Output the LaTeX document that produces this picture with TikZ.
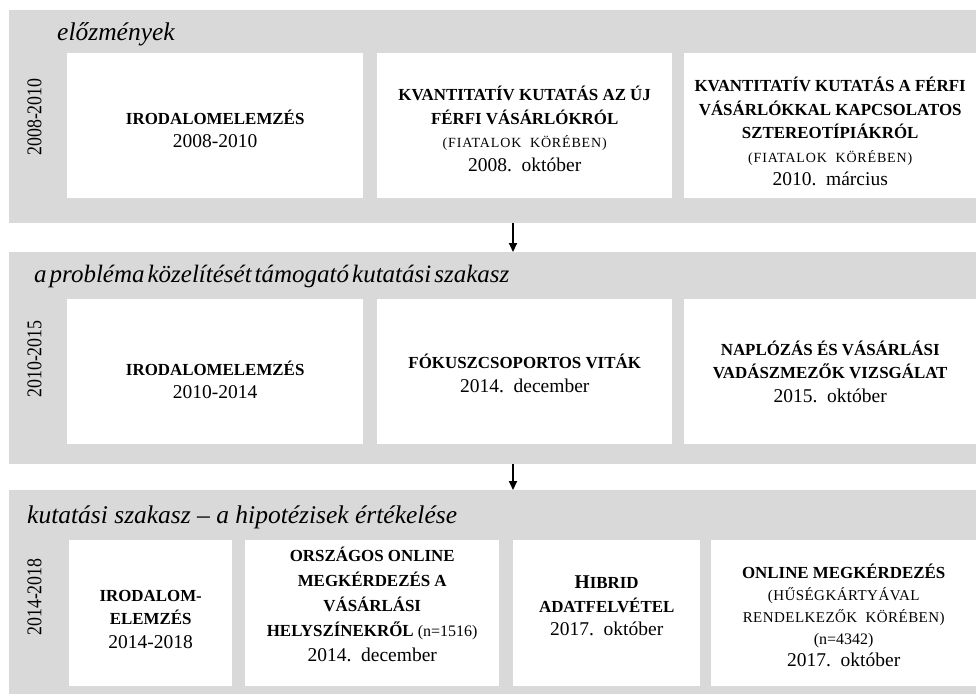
\documentclass[tikz,border=0pt]{standalone}
\usepackage{fontspec}
\setmainfont{Liberation Serif}
\usepackage{graphicx}
\usetikzlibrary{arrows.meta}
\definecolor{bandgray}{HTML}{D9D9D9}
\newcommand{\ttlf}{\fontsize{16.9}{\baselineskip}\bfseries\selectfont}
\newcommand{\bigbf}{\fontsize{19.5}{\baselineskip}\bfseries\selectfont}
\newcommand{\dtf}{\fontsize{19.5}{\baselineskip}\mdseries\selectfont}
\newcommand{\nf}{\fontsize{16}{\baselineskip}\mdseries\selectfont}
\newcommand{\scpf}{\fontsize{14}{\baselineskip}\mdseries\selectfont\addfontfeature{LetterSpace=6}}
\newcommand{\scpg}{\fontsize{15}{\baselineskip}\mdseries\selectfont\addfontfeature{LetterSpace=3}}
\newcommand{\lblf}{\fontsize{25.5}{30}\itshape\selectfont}
\begin{document}
\begin{tikzpicture}[x=1pt,y=-1pt,
  band/.style={fill=bandgray,draw=none,inner sep=0pt,anchor=north west,minimum width=967pt},
  box/.style={fill=white,draw=none,inner sep=0pt,anchor=north west},
  txt/.style={inner sep=0pt,align=center,font=\fontsize{19.5}{23.5}\selectfont},
  lbl/.style={inner sep=0pt,anchor=base west,font=\lblf},
  yr/.style={inner sep=0pt,rotate=90,font=\fontsize{21}{24}\selectfont},
  conn/.style={line width=1.8pt,-{Triangle[length=9pt,width=8pt]}}]
\useasboundingbox (0,0) rectangle (976,697);
% bands
\node[band,minimum height=213pt] (band1) at (9,10) {};
\node[band,minimum height=212pt] (band2) at (9,252) {};
\node[band,minimum height=204pt] (band3) at (9,490) {};
% band labels
\node[lbl] (l1) at (57,40.5) {előzmények};
\node[lbl,font=\fontsize{25}{30}\itshape\selectfont] (l2) at (34,282.5) {\spaceskip=0.12em\relax a probléma közelítését támogató kutatási szakasz};
\node[lbl] (l3) at (27,523) {kutatási szakasz – a hipotézisek értékelése};
% year labels
\node[yr] (y1) at (34.5,117) {\scalebox{0.85}[1]{2008-2010}};
\node[yr] (y2) at (34.5,359) {\scalebox{0.85}[1]{2010-2015}};
\node[yr] (y3) at (34.5,597) {\scalebox{0.85}[1]{2014-2018}};
% row 1 boxes
\node[box,minimum width=296pt,minimum height=145pt] (b11) at (67,53) {};
\node[box,minimum width=295pt,minimum height=145pt] (b12) at (377,53) {};
\node[box,minimum width=292pt,minimum height=145pt] (b13) at (684,53) {};
% row 2 boxes
\node[box,minimum width=296pt,minimum height=145pt] (b21) at (67,299) {};
\node[box,minimum width=295pt,minimum height=145pt] (b22) at (377,299) {};
\node[box,minimum width=292pt,minimum height=145pt] (b23) at (684,299) {};
% row 3 boxes
\node[box,minimum width=163pt,minimum height=146pt] (b31) at (69,540) {};
\node[box,minimum width=254pt,minimum height=146pt] (b32) at (245,540) {};
\node[box,minimum width=187pt,minimum height=146pt] (b33) at (513,540) {};
\node[box,minimum width=265pt,minimum height=146pt] (b34) at (711,540) {};
% texts row 1
\node[txt,yshift=-3pt] (t11) at (b11.center)
  {\ttlf IRODALOMELEMZÉS\\ \dtf 2008-2010};
\node[txt,yshift=-3pt] (t12) at (b12.center)
  {\ttlf KVANTITATÍV KUTATÁS AZ ÚJ\\ \ttlf FÉRFI VÁSÁRLÓKRÓL\\ \scpf (FIATALOK\ \ KÖRÉBEN)\\ \dtf 2008.\ \ október};
\node[txt,yshift=-6pt] (t13) at (b13.center)
  {\ttlf KVANTITATÍV KUTATÁS A FÉRFI\\ \ttlf VÁSÁRLÓKKAL KAPCSOLATOS\\ \ttlf SZTEREOTÍPIÁKRÓL\\ \scpf (FIATALOK\ \ KÖRÉBEN)\\ \dtf 2010.\ \ március};
% texts row 2
\node[txt,yshift=-8pt] (t21) at (b21.center)
  {\ttlf IRODALOMELEMZÉS\\ \dtf 2010-2014};
\node[txt,yshift=-1.5pt] (t22) at (b22.center)
  {\ttlf FÓKUSZCSOPORTOS VITÁK\\ \dtf 2014.\ \ december};
\node[txt] (t23) at (b23.center)
  {\ttlf NAPLÓZÁS ÉS VÁSÁRLÁSI\\ \ttlf VADÁSZMEZŐK VIZSGÁLAT\\ \dtf 2015.\ \ október};
% texts row 3
\node[txt,yshift=-6pt] (t31) at (b31.center)
  {\ttlf IRODALOM-\\ \ttlf ELEMZÉS\\ \dtf 2014-2018};
\node[txt,yshift=9pt,font=\fontsize{19.5}{25}\selectfont] (t32) at (b32.center)
  {\ttlf ORSZÁGOS ONLINE\\ \ttlf MEGKÉRDEZÉS A\\ \ttlf VÁSÁRLÁSI\\ \ttlf HELYSZÍNEKRŐL {\nf (n=1516)}\\ \dtf 2014.\ \ december};
\node[txt,yshift=7pt] (t33) at (b33.center)
  {{\bigbf H}\ttlf IBRID\\ \ttlf ADATFELVÉTEL\\ \dtf 2017.\ \ október};
\node[txt,yshift=-2pt,font=\fontsize{19.5}{22}\selectfont] (t34) at (b34.center)
  {\ttlf ONLINE MEGKÉRDEZÉS\\ \scpg (HŰSÉGKÁRTYÁVAL\\ \scpg RENDELKEZŐK\ \ KÖRÉBEN)\\ \nf (n=4342)\\ \dtf 2017.\ \ október};
% connectors
\coordinate (ax) at (513,0);
\draw[conn] (band1.south -| ax) -- (band2.north -| ax);
\draw[conn] (band2.south -| ax) -- (band3.north -| ax);
\end{tikzpicture}
\end{document}
